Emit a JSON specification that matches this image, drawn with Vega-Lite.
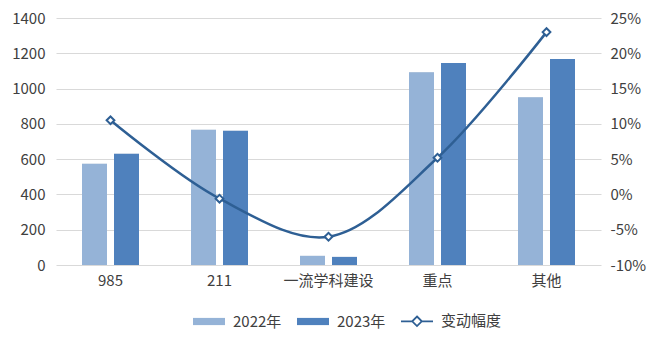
{
  "$schema": "https://vega.github.io/schema/vega-lite/v6.json",
  "width": 545,
  "height": 247,
  "autosize": {"type": "none"},
  "padding": {"left": 56, "top": 18, "right": 58, "bottom": 80},
  "background": "#ffffff",
  "config": {
    "view": {"stroke": null},
    "font": "Noto Sans CJK SC",
    "axis": {"labelFont": "Noto Sans CJK SC", "labelFontSize": 15, "labelColor": "#404040", "ticks": false, "domain": false, "title": null, "labelOverlap": false}
  },
  "datasets": {
    "bars": [
      {"cat": "985", "year": "2022年", "value": 574},
      {"cat": "985", "year": "2023年", "value": 631},
      {"cat": "211", "year": "2022年", "value": 767},
      {"cat": "211", "year": "2023年", "value": 761},
      {"cat": "一流学科建设", "year": "2022年", "value": 52},
      {"cat": "一流学科建设", "year": "2023年", "value": 46},
      {"cat": "重点", "year": "2022年", "value": 1093},
      {"cat": "重点", "year": "2023年", "value": 1145},
      {"cat": "其他", "year": "2022年", "value": 951},
      {"cat": "其他", "year": "2023年", "value": 1167}
    ],
    "change": [
      {"cat": "985", "pct": 0.105},
      {"cat": "211", "pct": -0.006},
      {"cat": "一流学科建设", "pct": -0.06},
      {"cat": "重点", "pct": 0.052},
      {"cat": "其他", "pct": 0.230}
    ]
  },
  "layer": [
    {
      "data": {"name": "bars"},
      "layer": [
        {
          "mark": {"type": "bar", "xOffset": 3, "color": "#000000", "opacity": 0.12},
          "encoding": {
            "x": {"field": "cat", "type": "nominal", "sort": null,
                  "scale": {"paddingInner": 0.477, "paddingOuter": 0.2385},
                  "axis": {"labelAngle": 0, "labelPadding": 8, "grid": false}},
            "xOffset": {"field": "year", "type": "nominal", "scale": {"paddingInner": 0.219, "paddingOuter": 0}},
            "y": {"field": "value", "type": "quantitative",
                  "scale": {"domain": [0, 1400], "nice": false},
                  "axis": {"values": [0, 200, 400, 600, 800, 1000, 1200, 1400], "format": "d", "grid": true, "gridColor": "#D9D9D9", "gridWidth": 1, "labelPadding": 11, "labelOverlap": false, "tickCount": 8}}
          }
        },
        {
          "mark": {"type": "bar"},
          "encoding": {
            "x": {"field": "cat", "type": "nominal", "sort": null},
            "xOffset": {"field": "year", "type": "nominal"},
            "y": {"field": "value", "type": "quantitative",
                  "axis": {"values": [0, 200, 400, 600, 800, 1000, 1200, 1400], "format": "d", "grid": true, "gridColor": "#D9D9D9", "gridWidth": 1, "labelPadding": 11, "labelOverlap": false, "tickCount": 8}},
            "color": {"field": "year", "type": "nominal",
                      "scale": {"domain": ["2022年", "2023年", "变动幅度"], "range": ["#95B3D7", "#4F81BD", "#2E5F94"]},
                      "legend": {
                        "orient": "none", "legendX": 144, "legendY": 294, "direction": "horizontal", "title": null,
                        "labelFont": "Noto Sans CJK SC", "labelFontSize": 15, "labelColor": "#404040",
                        "symbolSize": 256, "labelOffset": 15, "columnPadding": 11,
                        "encode": {"symbols": {"update": {
                          "shape": {"signal": "datum.value === '变动幅度' ? 'M-2,0H-0.6M0.6,0H2M0,-0.6L0.6,0L0,0.6L-0.6,0Z' : 'M-2,-0.45H2V0.45H-2Z'"},
                          "fill": {"signal": "datum.value === '变动幅度' ? '#ffffff' : (datum.value === '2022年' ? '#95B3D7' : '#4F81BD')"},
                          "stroke": {"signal": "datum.value === '变动幅度' ? '#2E5F94' : 'transparent'"},
                          "strokeWidth": {"value": 1.8},
                          "fillOpacity": {"signal": "datum.value === '变动幅度' ? 0 : 1"},
                          "opacity": {"value": 1}
                        }}}
                      }}
          }
        }
      ]
    },
    {
      "data": {"name": "change"},
      "mark": {"type": "line", "interpolate": "catmull-rom", "color": "#2E5F94", "strokeWidth": 2.5,
               "point": {"shape": "diamond", "filled": true, "fill": "#ffffff", "stroke": "#2E5F94", "strokeWidth": 2, "size": 60}},
      "encoding": {
        "x": {"field": "cat", "type": "nominal", "sort": null},
        "y": {"field": "pct", "type": "quantitative",
              "scale": {"domain": [-0.10, 0.25], "nice": false},
              "axis": {"orient": "right", "values": [-0.10, -0.05, 0, 0.05, 0.10, 0.15, 0.20, 0.25], "grid": false,
                       "labelExpr": "round(datum.value*100) + '%'", "labelPadding": 9, "labelOverlap": false}}
      }
    }
  ],
  "resolve": {"scale": {"y": "independent"}}
}
